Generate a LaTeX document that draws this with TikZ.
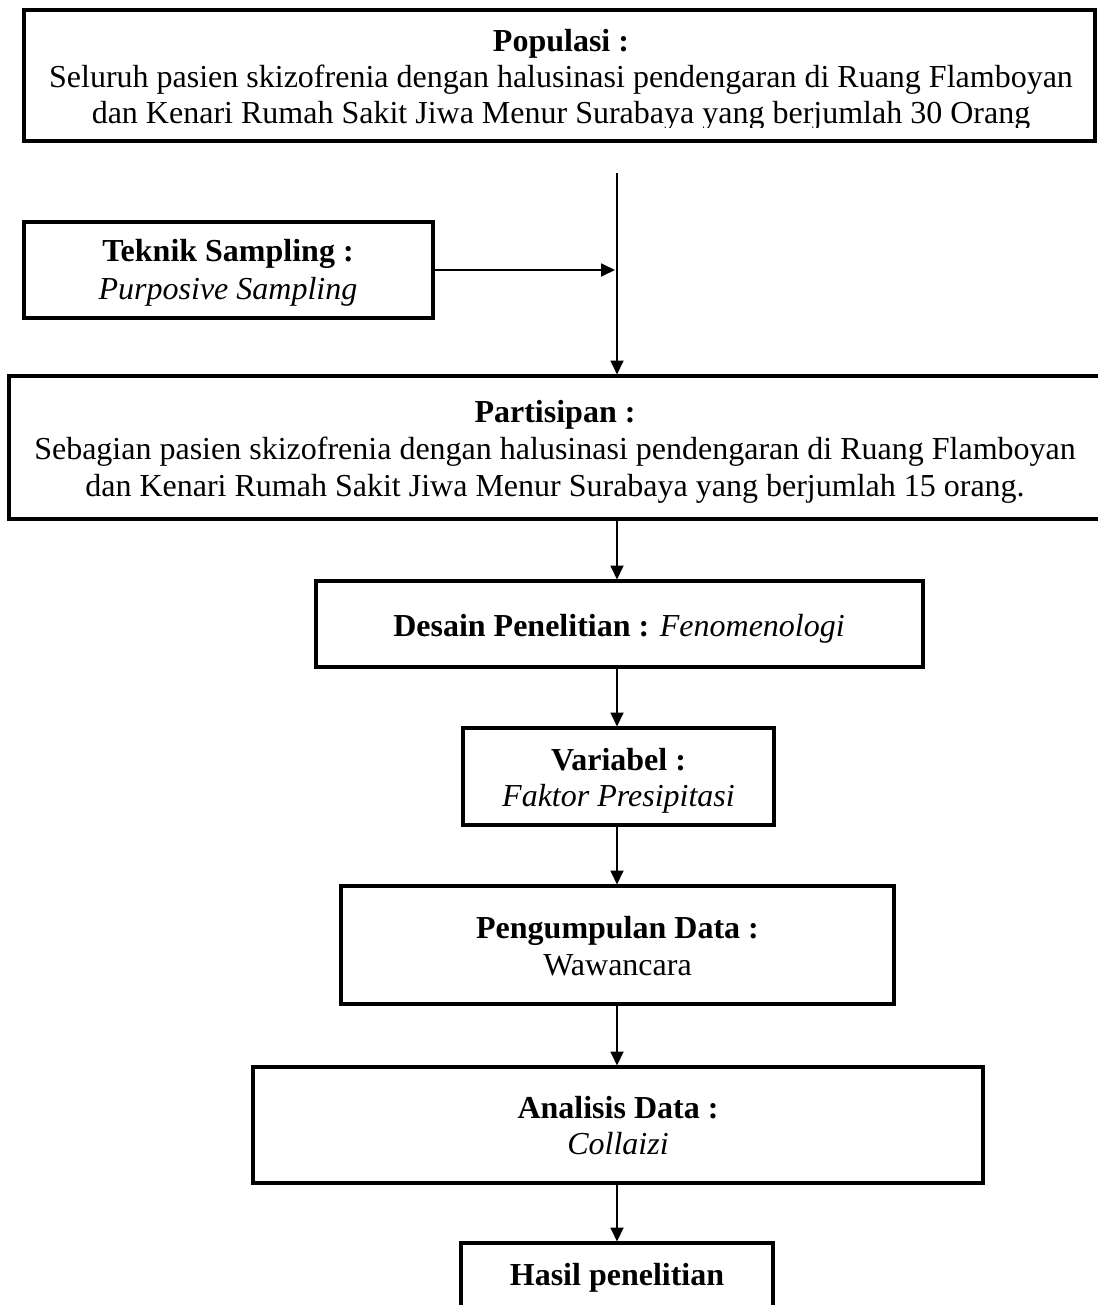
\documentclass[tikz,border=0pt]{standalone}
\usepackage{fontspec}
\setmainfont{Liberation Serif}
\usetikzlibrary{arrows.meta}
\begin{document}
\begin{tikzpicture}[x=1pt,y=-1pt,
  box/.style={draw=black, line width=3.2pt, rectangle, inner sep=0pt, outer sep=0pt},
  txt/.style={anchor=base, inner sep=0pt, font=\fontsize{32}{37}\selectfont},
  conn/.style={line width=1.8pt, -{Triangle[length=14pt,width=13pt]}, shorten >=1.5pt}
]
\useasboundingbox (0,0) rectangle (1097,1305);

% boxes
\node[box, minimum width=1071pt, minimum height=131pt] (pop)  at (559.5,75.5) {};
\node[box, minimum width=409pt,  minimum height=96pt]  (tek)  at (228.5,270) {};
\node[box, minimum width=1091pt, minimum height=143pt] (part) at (554.5,447.5) {};
\node[box, minimum width=607pt,  minimum height=86pt]  (des)  at (619.5,624) {};
\node[box, minimum width=311pt,  minimum height=97pt]  (var)  at (618.5,776.5) {};
\node[box, minimum width=553pt,  minimum height=118pt] (pen)  at (617.5,945) {};
\node[box, minimum width=730pt,  minimum height=116pt] (ana)  at (618,1125) {};
\node[box, minimum width=312pt,  minimum height=77pt]  (has)  at (617,1281.5) {};

% texts
\begin{scope}
\clip (26,12) rectangle (1093,128);
\node[txt] (popa) at (561,52)  {\bfseries Populasi :};
\node[txt] (popb) at (561,88)  {Seluruh pasien skizofrenia dengan halusinasi pendengaran di Ruang Flamboyan};
\node[txt] (popc) at (561,124) {dan Kenari Rumah Sakit Jiwa Menur Surabaya yang berjumlah 30 Orang};
\end{scope}

\node[txt] (teka) at (228,262) {\bfseries Teknik Sampling :};
\node[txt] (tekb) at (228,299) {\itshape Purposive Sampling};

\node[txt] (parta) at (555,422) {\bfseries Partisipan :};
\node[txt] (partb) at (555,459) {Sebagian pasien skizofrenia dengan halusinasi pendengaran di Ruang Flamboyan};
\node[txt] (partc) at (555,496) {dan Kenari Rumah Sakit Jiwa Menur Surabaya yang berjumlah 15 orang.};

\node[txt] (desa) at (619,636) {\textbf{Desain Penelitian :} \textit{Fenomenologi}};

\node[txt] (vara) at (618.5,770) {\bfseries Variabel :};
\node[txt] (varb) at (618.5,806) {\itshape Faktor Presipitasi};

\node[txt] (pena) at (617.5,938) {\bfseries Pengumpulan Data :};
\node[txt] (penb) at (617.5,975) {Wawancara};

\node[txt] (anaa) at (618,1118) {\bfseries Analisis Data :};
\node[txt] (anab) at (618,1154) {\itshape Collaizi};

\node[txt] (hasa) at (617,1285) {\bfseries Hasil penelitian};

% connectors
\coordinate (vx) at (617,0);
\coordinate (vtop) at (617,173);
\draw[conn] (vtop) -- (part.north -| vx);
\draw[conn, shorten >=2pt] (tek.east) -- (tek.east -| vx);
\draw[conn] (part.south -| vx) -- (des.north -| vx);
\draw[conn] (des.south -| vx) -- (var.north -| vx);
\draw[conn] (var.south -| vx) -- (pen.north -| vx);
\draw[conn] (pen.south -| vx) -- (ana.north -| vx);
\draw[conn] (ana.south -| vx) -- (has.north -| vx);
\end{tikzpicture}
\end{document}
